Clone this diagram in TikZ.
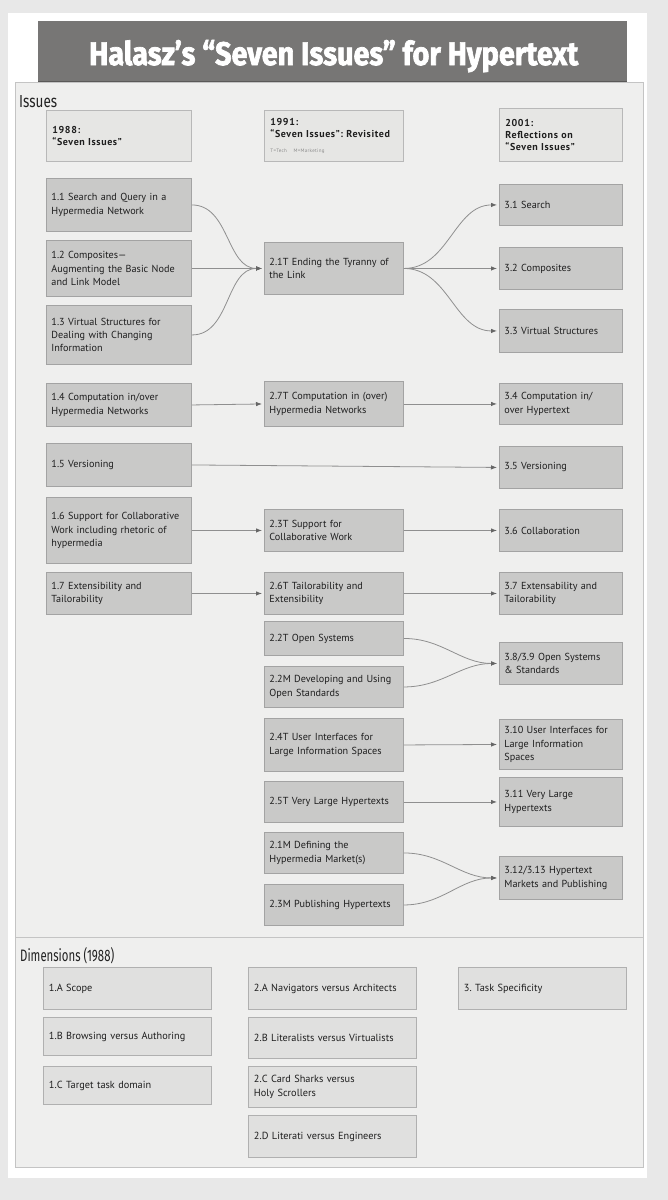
\documentclass[tikz,border=0pt]{standalone}
\usepackage{fontspec}
\setmainfont{PT Sans}
\newfontfamily\titlefont{Fira Sans}
\newfontfamily\titleheavy{Fira Sans}[FakeBold=2.2]
\newfontfamily\hdrfont{PT Sans}[LetterSpace=6]
\usepackage{graphicx}
\usetikzlibrary{arrows.meta}
\frenchspacing
\definecolor{bgc}{HTML}{E8E8E8}
\definecolor{panelfill}{HTML}{EFEFEE}
\definecolor{paneledge}{HTML}{C4C4C4}
\definecolor{titlec}{HTML}{777675}
\definecolor{titleedge}{HTML}{5A5958}
\definecolor{boxfill}{HTML}{C9C9C8}
\definecolor{boxedge}{HTML}{A3A3A3}
\definecolor{hdrfill}{HTML}{E6E6E4}
\definecolor{hdredge}{HTML}{B8B8B8}
\definecolor{dimfill}{HTML}{E0E0DF}
\definecolor{dimedge}{HTML}{B0B0B0}
\definecolor{linec}{HTML}{8F8F8F}
\definecolor{tipc}{HTML}{666666}
\definecolor{textc}{HTML}{1E1E1E}
\definecolor{tinyc}{HTML}{8A8A8A}
\definecolor{labc}{HTML}{222222}
\newcommand\bx[6]{\node[#1,minimum height=#5pt] (#2) at (#3,#4) {#6};}
\begin{document}
\frenchspacing
\begin{tikzpicture}[x=1pt,y=-1pt,
  panel/.style={draw=paneledge,fill=panelfill,line width=1pt},
  issue/.style={draw=boxedge,fill=boxfill,line width=0.9pt,anchor=north west,inner xsep=5pt,inner ysep=2pt,align=left,text=textc,font=\fontsize{10.2}{13.3}\selectfont},
  colL/.style={issue,minimum width=145pt,text width=135pt},
  colM/.style={issue,minimum width=139pt,text width=129pt},
  colR/.style={issue,minimum width=123pt,text width=113pt},
  hdr/.style={draw=hdredge,fill=hdrfill,line width=0.9pt,anchor=north west,inner xsep=6pt,inner ysep=2pt,align=left,text=textc,font=\hdrfont\fontsize{10}{12}\selectfont\bfseries},
  dim/.style={draw=dimedge,fill=dimfill,line width=0.9pt,anchor=north west,minimum width=168pt,text width=157pt,inner xsep=5.5pt,inner ysep=2pt,align=left,text=textc,font=\fontsize{10.3}{13.3}\selectfont},
  conn/.style={draw=linec,line width=0.8pt,-{Latex[length=6pt,width=4.5pt,color=tipc]},shorten >=2pt},
  lab/.style={anchor=base west,inner sep=0pt,text=labc}]
\useasboundingbox (0,0) rectangle (668,1200);
\fill[bgc] (0,0) rectangle (668,1200);
\fill[white] (8,13) rectangle (647,1178);
\draw[panel] (15,82) rectangle (643,937);
\draw[panel] (15,937) rectangle (643,1167);
\fill[titlec] (38,21) rectangle (627,82);
\draw[titleedge,line width=1.2pt] (38,81.4) -- (627,81.4);
\node[lab,text=white] (title) at (89,65) {\resizebox{489pt}{25pt}{\titleheavy\bfseries Halasz’s “Seven Issues” for Hypertext}};
\node[lab] (issues) at (19,107) {\resizebox{38pt}{12pt}{\titlefont Issues}};
\node[lab] (dims) at (20,961) {\resizebox{94pt}{14pt}{\titlefont Dimensions (1988)}};
% headers
\node[hdr,minimum width=145pt,text width=133pt,minimum height=51pt] (h1) at (46,110) {1988:\\“Seven Issues”};
\node[hdr,minimum width=139pt,text width=127pt,minimum height=51pt] (h2) at (264,110) {1991:\\“Seven Issues”: Revisited\\[3pt]{\fontsize{5}{6}\selectfont\mdseries\color{tinyc}T=Tech \ M=Marketing}};
\node[hdr,minimum width=123pt,text width=111pt,minimum height=53pt] (h3) at (499,108) {2001:\\Reflections on\\“Seven Issues”};
% left column
\bx{colL}{n11}{46}{178}{53}{1.1 Search and Query in a\\Hypermedia Network}
\bx{colL}{n12}{46}{240}{56}{1.2 Composites—\\Augmenting the Basic Node\\and Link Model}
\bx{colL}{n13}{46}{305}{59}{1.3 Virtual Structures for\\Dealing with Changing\\Information}
\bx{colL}{n14}{46}{383}{43}{1.4 Computation in/over\\Hypermedia Networks}
\bx{colL}{n15}{46}{443}{43}{1.5 Versioning}
\bx{colL}{n16}{46}{497}{66}{1.6 Support for Collaborative\\Work including rhetoric of\\hypermedia}
\bx{colL}{n17}{46}{572}{42}{1.7 Extensibility and\\Tailorability}
% middle column
\bx{colM}{m21T}{264}{242}{52}{2.1T Ending the Tyranny of\\the Link}
\bx{colM}{m27T}{264}{381}{45}{2.7T Computation in (over)\\Hypermedia Networks}
\bx{colM}{m23T}{264}{509}{42}{2.3T Support for\\Collaborative Work}
\bx{colM}{m26T}{264}{572}{42}{2.6T Tailorability and\\Extensibility}
\bx{colM}{m22T}{264}{621}{34}{2.2T Open Systems}
\bx{colM}{m22M}{264}{666}{41}{2.2M Developing and Using\\Open Standards}
\bx{colM}{m24T}{264}{718}{53}{2.4T User Interfaces for\\Large Information Spaces}
\bx{colM}{m25T}{264}{781}{41}{2.5T Very Large Hypertexts}
\bx{colM}{m21M}{264}{832}{41}{2.1M Defining the\\Hypermedia Market(s)}
\bx{colM}{m23M}{264}{884}{41}{2.3M Publishing Hypertexts}
% right column
\bx{colR}{r31}{499}{184}{41}{3.1 Search}
\bx{colR}{r32}{499}{247}{42}{3.2 Composites}
\bx{colR}{r33}{499}{309}{43}{3.3 Virtual Structures}
\bx{colR}{r34}{499}{383}{41}{3.4 Computation in/\\over Hypertext}
\bx{colR}{r35}{499}{446}{42}{3.5 Versioning}
\bx{colR}{r36}{499}{509}{42}{3.6 Collaboration}
\bx{colR}{r37}{499}{572}{42}{3.7 Extensability and\\Tailorability}
\bx{colR}{r38}{499}{642}{42}{3.8/3.9 Open Systems\\\& Standards}
\bx{colR}{r310}{499}{719}{50}{3.10 User Interfaces for\\Large Information\\Spaces}
\bx{colR}{r311}{499}{777}{49}{3.11 Very Large\\Hypertexts}
\bx{colR}{r312}{499}{856}{43}{3.12/3.13 Hypertext\\Markets and Publishing}
% connectors
\draw[conn] (n11.east) to[out=0,in=180] (m21T.west);
\draw[conn] (n12.east) -- (m21T.west);
\draw[conn] (n13.east) to[out=0,in=180] (m21T.west);
\draw[conn] (m21T.east) to[out=0,in=180] (r31.west);
\draw[conn] (m21T.east) -- (r32.west);
\draw[conn] (m21T.east) to[out=0,in=180] (r33.west);
\draw[conn] (n14.east) -- (m27T.west);
\draw[conn] (m27T.east) -- (r34.west);
\draw[conn] (n15.east) -- (r35.west);
\draw[conn] (n16.east) -- (m23T.west);
\draw[conn] (m23T.east) -- (r36.west);
\draw[conn] (n17.east) -- (m26T.west);
\draw[conn] (m26T.east) -- (r37.west);
\draw[conn] (m22T.east) to[out=0,in=180] (r38.west);
\draw[conn] (m22M.east) to[out=0,in=180] (r38.west);
\draw[conn] (m24T.east) -- (r310.west);
\draw[conn] (m25T.east) -- (r311.west);
\draw[conn] (m21M.east) to[out=0,in=180] (r312.west);
\draw[conn] (m23M.east) to[out=0,in=180] (r312.west);
% dimensions
\bx{dim}{d1A}{43}{967}{42}{1.A Scope}
\bx{dim}{d1B}{43}{1017}{38}{1.B Browsing versus Authoring}
\bx{dim}{d1C}{43}{1066}{38}{1.C Target task domain}
\bx{dim}{d2A}{248}{967}{42}{2.A Navigators versus Architects}
\bx{dim}{d2B}{248}{1017}{41}{2.B Literalists versus Virtualists}
\bx{dim}{d2C}{248}{1066}{41}{2.C Card Sharks versus\\Holy Scrollers}
\bx{dim}{d2D}{248}{1115}{42}{2.D Literati versus Engineers}
\bx{dim}{d3}{458}{967}{42}{3. Task Specificity}
\end{tikzpicture}
\end{document}
